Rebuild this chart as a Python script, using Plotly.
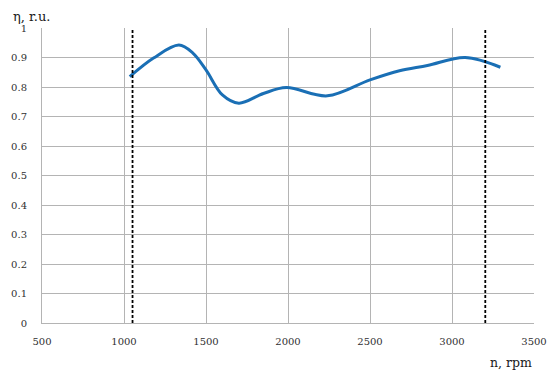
import plotly.graph_objects as go

# efficiency curve
rpm = [1035, 1180, 1335, 1420, 1500, 1600, 1700, 1850, 1990,
       2240, 2500, 2680, 2850, 3080, 3295]
eta = [0.835, 0.898, 0.942, 0.915, 0.858, 0.773, 0.745, 0.778, 0.798,
       0.770, 0.824, 0.855, 0.873, 0.900, 0.867]

# operating range limits (dashed lines)
limits = [1052, 3203]

FONT = "DejaVu Serif, serif"
GRID = "#b4b4b4"

fig = go.Figure()
fig.add_trace(go.Scatter(
    x=rpm, y=eta, mode="lines",
    line=dict(color="#1a6fb5", width=3, shape="spline", smoothing=1.0),
    showlegend=False, hoverinfo="skip"
))

for x0 in limits:
    fig.add_shape(type="line", x0=x0, x1=x0, y0=0, y1=1, xref="x", yref="y",
                  line=dict(color="black", width=1.8, dash="3px,2px"))

fig.update_layout(
    width=550, height=376,
    margin=dict(l=42, r=16, t=28, b=53, autoexpand=False),
    paper_bgcolor="white", plot_bgcolor="white",
    font=dict(family=FONT, size=10, color="#303030"),
    xaxis=dict(range=[500, 3500], dtick=500, tick0=500, showgrid=True,
               gridcolor=GRID, gridwidth=1, showline=True, linecolor=GRID,
               zeroline=False, ticks="", ticklabelstandoff=9, automargin=False,
               fixedrange=True),
    yaxis=dict(range=[0, 1], dtick=0.1, tick0=0, showgrid=True,
               gridcolor=GRID, gridwidth=1, showline=True, linecolor=GRID,
               zeroline=False, ticks="", ticklabelstandoff=12, automargin=False,
               fixedrange=True),
    annotations=[
        dict(text="η, r.u.", x=0, y=1, xref="paper", yref="paper",
             xanchor="left", yanchor="bottom", xshift=-31, yshift=2,
             showarrow=False, font=dict(family=FONT, size=13, color="#202020")),
        dict(text="n, rpm", x=1, y=0, xref="paper", yref="paper",
             xanchor="right", yanchor="top", yshift=-30, showarrow=False,
             font=dict(family=FONT, size=12.5, color="#202020")),
    ],
)

# drop the browser's default page margin so the chart sits at the corner
fig.write_html("out.html", config={"displayModeBar": False},
               post_script="document.body.style.margin='0';document.body.style.overflow='hidden';")
